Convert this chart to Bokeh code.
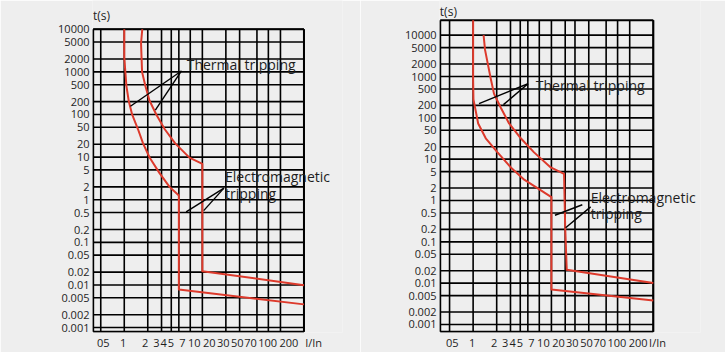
from bokeh.plotting import figure
from bokeh.models import FixedTicker, Range1d, Label
from bokeh.layouts import row
from bokeh.embed import file_html
from bokeh.resources import INLINE

# ---------------- data ----------------
t_ticks = [10000, 5000, 2000, 1000, 500, 200, 100, 50, 20, 10, 5, 2, 1,
           0.5, 0.2, 0.1, 0.05, 0.02, 0.01, 0.005, 0.002, 0.001]
t_labels = ["10000", "5000", "2000", "1000", "500", "200", "100", "50", "20", "10", "5", "2", "1",
            "0.5", "0.2", "0.1", "0.05", "0.02", "0.01", "0.005", "0.002", "0.001"]

x_grid = [0.5, 1, 2, 3, 4, 5, 7, 10, 20, 30, 50, 70, 100, 200]
x_grid_right_extra = [15]
x_labels = ["05", "1", "2", "3", "4", "5", "7", "10", "20", "30", "50", "70", "100", "200"]
x_unit_label = "I/In"

# left chart curves (I/In, t in s)
left_inner_x = [1.0, 1.0, 1.065, 1.14, 1.26, 1.5, 1.74, 2.11, 2.83, 3.8, 5.0, 5.0, 200]
left_inner_t = [10000, 2200, 470, 210, 100, 45, 21, 9.8, 4.2, 2.0, 1.25, 0.0078, 0.0035]
left_outer_x = [1.70, 1.64, 1.69, 1.86, 2.11, 2.57, 3.3, 4.49, 6.83, 10, 10, 200]
left_outer_t = [10000, 4700, 1000, 470, 210, 100, 45, 21, 9.7, 6.9, 0.021, 0.0099]

# right chart curves
right_inner_x = [1.0, 1.0, 1.01, 1.16, 1.45, 2.05, 3.03, 4.39, 10, 10, 200]
right_inner_t = [22900, 830, 280, 73, 32, 14.6, 6.3, 3.3, 1.21, 0.0070, 0.0038]
right_outer_x = [1.36, 1.42, 1.68, 1.85, 2.26, 2.88, 4.06, 6.0, 9.8, 14.5, 15.0, 15.7, 200]
right_outer_t = [10000, 4400, 880, 380, 175, 73, 32, 14.6, 6.3, 4.4, 0.22, 0.021, 0.0101]

# leader lines (start I/In, start t, end I/In, end t)
left_lead_x0 = [5.4, 5.4, 18.9, 18.9]
left_lead_t0 = [1050, 1050, 1.87, 1.87]
left_lead_x1 = [1.2, 2.5, 6.2, 10.4]
left_lead_t1 = [156, 126, 0.518, 0.555]
right_lead_x0 = [5.03, 5.03, 24.8, 31.7]
right_lead_t0 = [668, 668, 0.79, 0.70]
right_lead_x1 = [1.19, 2.44, 11.1, 15.2]
right_lead_t1 = [221, 209, 0.44, 0.219]

# ---------------- layout / style ----------------
x_label_anchor = [0.54, 0.97, 1.85, 2.57, 3.2, 3.95, 5.55, 7.9, 12.3, 18.5, 28, 41.5, 68.5, 128]
BG = "#eeeeee"
RED = "#dd3a2c"
INK = "#1e1e1e"
FONT = "Open Sans"


def make_panel(width, border_lr, x_rng, y_rng, box_x, box_t, grid_x, unit_anchor,
               curves, leads, texts):
    p = figure(width=width, height=352, title=None, output_backend="svg", toolbar_location=None,
               x_axis_type="log", y_axis_type="log",
               x_range=Range1d(*x_rng), y_range=Range1d(*y_rng),
               min_border_left=border_lr[0], min_border_right=border_lr[1],
               min_border_top=0, min_border_bottom=17)
    p.background_fill_color = BG
    p.border_fill_color = BG
    p.outline_line_color = None
    p.xgrid.visible = False
    p.ygrid.visible = False

    # grid inside the chart box
    n = len(grid_x)
    p.segment(x0=grid_x, y0=[box_t[0]] * n, x1=grid_x, y1=[box_t[1]] * n,
              line_color="black", line_width=1.6)
    m = len(t_ticks)
    p.segment(x0=[box_x[0]] * m, y0=t_ticks, x1=[box_x[1]] * m, y1=t_ticks,
              line_color="black", line_width=1.6)
    bx0, bx1 = box_x
    bt0, bt1 = box_t
    p.segment(x0=[bx0, bx1, bx0, bx0], y0=[bt0, bt0, bt0, bt1],
              x1=[bx0, bx1, bx1, bx1], y1=[bt1, bt1, bt0, bt1],
              line_color="black", line_width=2)

    ticks = x_label_anchor + [unit_anchor]
    p.xaxis.ticker = FixedTicker(ticks=ticks)
    p.xaxis.major_label_overrides = {a: s for a, s in zip(ticks, x_labels + [x_unit_label])}
    p.yaxis.ticker = FixedTicker(ticks=t_ticks)
    p.yaxis.major_label_overrides = {v: s for v, s in zip(t_ticks, t_labels)}
    for ax in (p.xaxis[0], p.yaxis[0]):
        ax.axis_line_color = None
        ax.major_tick_line_color = None
        ax.minor_tick_line_color = None
        ax.major_tick_out = 0
        ax.major_tick_in = 0
        ax.minor_tick_out = 0
        ax.minor_tick_in = 0
        ax.major_label_text_font = FONT
        ax.major_label_text_font_size = "11px"
        ax.major_label_text_color = INK
    p.xaxis.major_label_standoff = 2
    p.yaxis.major_label_standoff = 3

    for cx, ct in curves:
        p.line(cx, ct, line_color=RED, line_width=2, line_join="round")

    x0, t0, x1, t1 = leads
    p.segment(x0=x0, y0=t0, x1=x1, y1=t1, line_color="black", line_width=1.4)

    for (tx, ty, txt, size, align) in texts:
        p.add_layout(Label(x=tx, y=ty, text=txt, text_font=FONT, text_font_size=size,
                           text_color=INK, text_baseline="middle", text_align=align))
    return p


p1 = make_panel(
    360, (92, 18), (0.392, 623), (0.000766, 47250), (0.40, 200), (0.0008, 10000),
    x_grid, 266,
    [(left_inner_x, left_inner_t), (left_outer_x, left_outer_t)],
    (left_lead_x0, left_lead_t0, left_lead_x1, left_lead_t1),
    [(6.3, 1480, "Thermal tripping", "14px", "left"),
     (19.5, 3.43, "Electromagnetic", "14px", "left"),
     (19.5, 1.42, "tripping", "14px", "left"),
     (0.511, 21200, "t(s)", "12px", "center")])

p2 = make_panel(
    365, (79, 25), (0.372, 802), (0.00064, 69000), (0.38, 200), (0.00067, 22900),
    x_grid + x_grid_right_extra, 227,
    [(right_inner_x, right_inner_t), (right_outer_x, right_outer_t)],
    (right_lead_x0, right_lead_t0, right_lead_x1, right_lead_t1),
    [(6.31, 598, "Thermal tripping", "14px", "left"),
     (31.7, 1.21, "Electromagnetic", "14px", "left"),
     (31.7, 0.482, "tripping", "14px", "left"),
     (0.483, 37600, "t(s)", "12px", "center")])

layout = row(p1, p2)
open("out.html", "w").write(file_html(layout, INLINE))
